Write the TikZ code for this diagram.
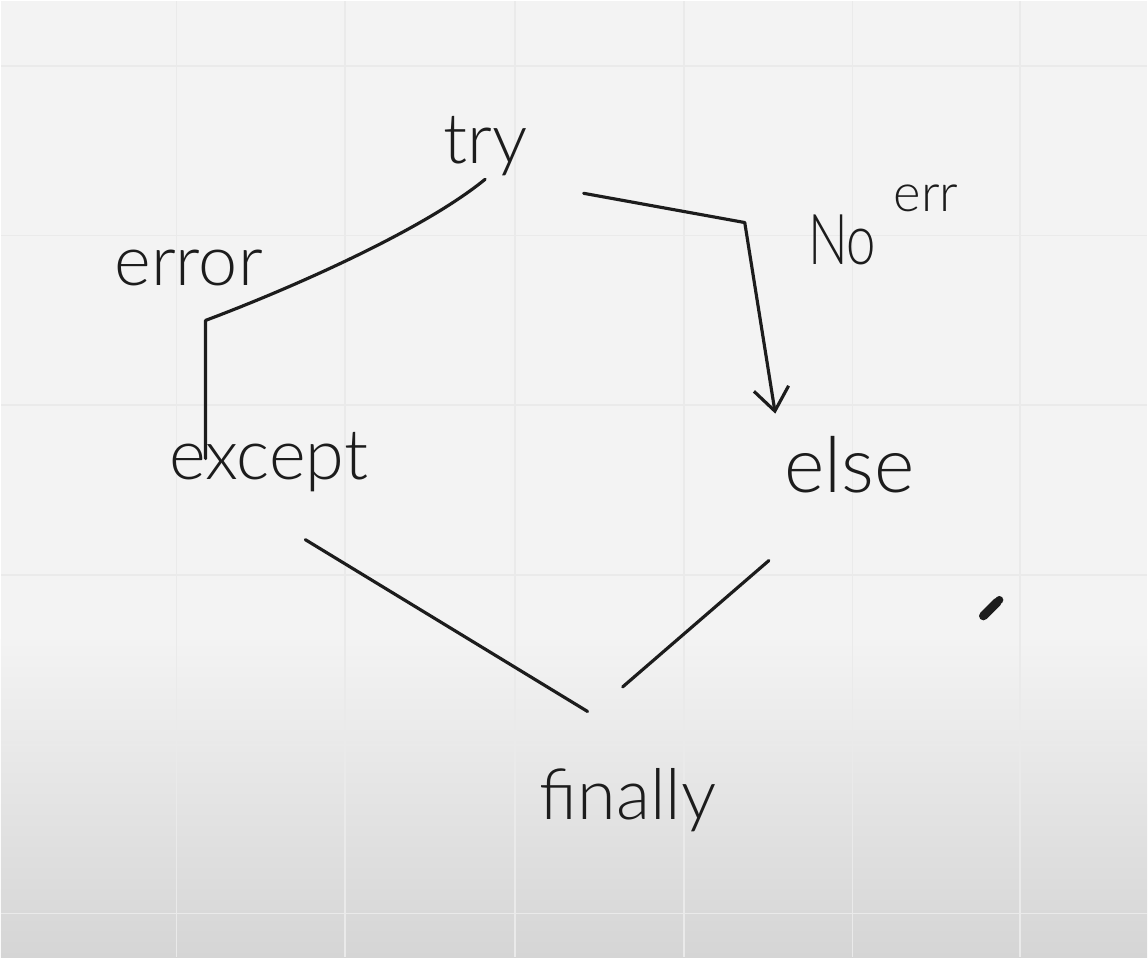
\documentclass[tikz,border=0pt]{standalone}
\usepackage{fontspec}
\setmainfont{Lato}[UprightFont=* Light]
\usetikzlibrary{arrows,arrows.meta,positioning}
\definecolor{paper}{HTML}{F3F3F3}
\definecolor{paperdark}{HTML}{D5D5D5}
\definecolor{gridline}{HTML}{EAEAEA}
\definecolor{ink}{HTML}{1C1C1C}

\begin{document}
\begin{tikzpicture}[x=0.02cm,y=-0.02cm]
\tikzstyle{every node}=[inner sep=2pt,text=ink]
\tikzstyle{word}=[font=\fontsize{40}{48}\selectfont]
\tikzstyle{pen}=[draw=ink,line width=1.8pt,line cap=round,line join=round]
\tikzstyle{grid line}=[draw=gridline,line width=1pt]
% board
\fill[paper] (0,0) rectangle (1148,958);
\shade[top color=paper,bottom color=paperdark] (0,640) rectangle (1148,958);
\foreach \gx in {176,345,515,684,853,1021}
  \draw[grid line] (\gx,0) -- (\gx,958);
\foreach \gy in {65,235,405,575,745,914}
  \draw[grid line] (0,\gy) -- (1148,\gy);
\useasboundingbox (0,0) rectangle (1148,958);

% words
\node[word] (try) at (485,145) {try};
\node[word] (error) at (188,268) {error};
\node[word] (except) at (268,462) {except};
\node[word,font=\fontsize{44}{50}\selectfont] (else) at (850,465) {else};
\node[word] (finally) at (628,800) {finally};
\node[word,anchor=base west,inner sep=0pt] (noerr) at (808,264)
  {\scalebox{0.75}[1]{No}\hspace{10pt}\raisebox{30pt}{\fontsize{30}{34}\selectfont err}};

% bends
\coordinate (errbend) at (205,320);
\coordinate (okbend) at (745,222);

% error path
\draw[pen] (try.south) .. controls (420,232) and (280,292) .. (errbend)
  -- ([yshift=2pt]errbend |- except);
% no error path
\draw[pen,-{Straight Barb[length=13pt,width=20pt]}]
  ([xshift=30pt,yshift=-8pt]try.south east) -- (okbend)
  -- ([xshift=-3pt,yshift=11pt]else.north west);
% into finally
\draw[pen] ([xshift=21pt,yshift=-25pt]except.south)
  -- ([xshift=-23pt,yshift=30pt]finally.north);
\draw[pen] ([xshift=-46pt,yshift=-36pt]else.south)
  -- ([xshift=-3pt,yshift=44pt]finally.north);

% cursor
\draw[ink,line width=5pt,line cap=round] (984,616) -- (998,602);
\fill[ink] (1000,600) circle[radius=4];
\end{tikzpicture}
\end{document}
